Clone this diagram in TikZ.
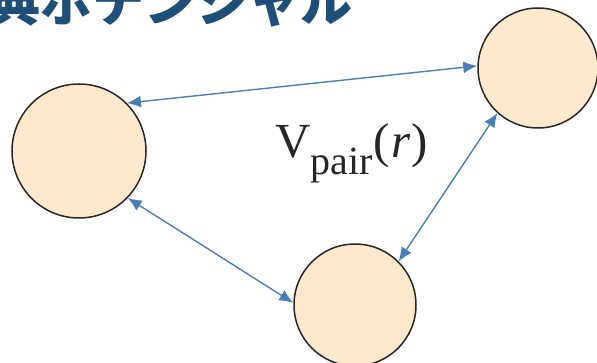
\documentclass[tikz,border=0pt]{standalone}
\usepackage{fontspec}
\newfontfamily\cjk{Noto Sans CJK JP}
\newfontfamily\labelserif{Liberation Serif}
\usetikzlibrary{arrows.meta}
\definecolor{titleblue}{HTML}{1F4E79}
\definecolor{arrowblue}{HTML}{4A7EBB}
\definecolor{peach}{HTML}{FFE9CC}
\definecolor{rim}{HTML}{262626}
\tikzset{
  particle/.style={circle, draw=rim, line width=1.5pt, fill=peach, inner sep=0pt, minimum size=#1},
  pairarrow/.style={arrowblue, line width=1.4pt, {Latex[length=14pt,width=12pt]}-{Latex[length=14pt,width=12pt]}}
}
\begin{document}
\begin{tikzpicture}[x=1pt,y=-1pt]
\useasboundingbox (0,0) rectangle (597,363);
\clip (0,0) rectangle (597,363);
\node[anchor=base west, inner sep=0pt, text=titleblue, font=\cjk\bfseries\fontsize{52}{60}\selectfont] (title) at (-64,22) {古典ポテンシャル};
\node[particle=134pt] (L) at (79,151) {};
\node[particle=120pt] (TR) at (538,68) {};
\node[particle=122pt] (B) at (355,305) {};
\draw[pairarrow] (L.45) -- (TR.178);
\draw[pairarrow] (L.-44) -- (B.178);
\draw[pairarrow] (B.45) -- (TR.-132);
\node[anchor=base west, inner sep=0pt, text=rim, font=\labelserif\fontsize{49}{56}\selectfont] (V) at (275,158) {V\raisebox{-17pt}{\fontsize{40}{46}\selectfont pair}\kern1pt(\kern1pt\textit{r}\kern1pt)};
\end{tikzpicture}
\end{document}
